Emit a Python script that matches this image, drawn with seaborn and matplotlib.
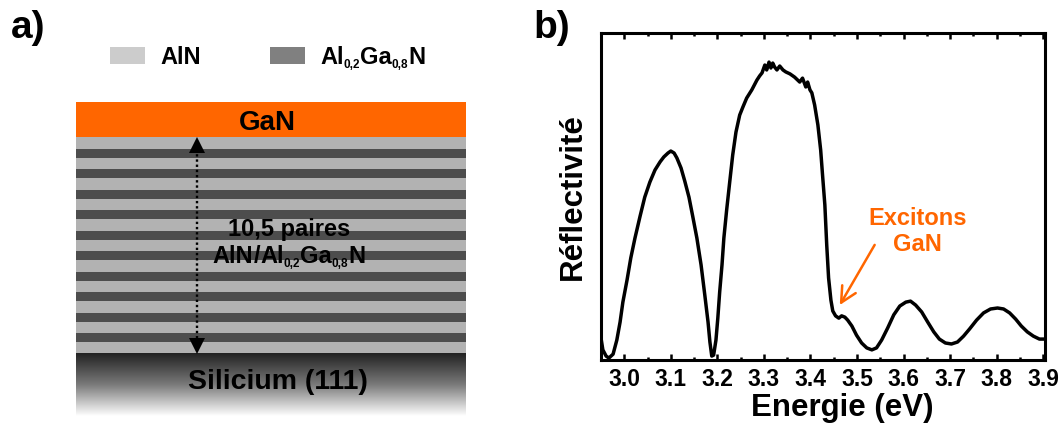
import matplotlib
matplotlib.use("Agg")
import matplotlib.pyplot as plt
from matplotlib.colors import LinearSegmentedColormap
from matplotlib.ticker import MultipleLocator
import numpy as np
import pandas as pd
import seaborn as sns

# ---------------- data ----------------
# Reflectivity spectrum (arbitrary units) versus photon energy (eV)
energy = [
    2.950, 2.954, 2.961, 2.967, 2.976, 2.984, 2.991, 2.997, 3.006, 3.014,
    3.023, 3.034, 3.044, 3.055, 3.066, 3.077, 3.085, 3.094, 3.100, 3.107,
    3.113, 3.122, 3.130, 3.139, 3.147, 3.156, 3.165, 3.173, 3.180, 3.184,
    3.188, 3.192, 3.197, 3.201, 3.205, 3.210, 3.214, 3.220, 3.227, 3.233,
    3.240, 3.248, 3.255, 3.263, 3.274, 3.285, 3.291, 3.296, 3.302, 3.306,
    3.311, 3.315, 3.319, 3.323, 3.328, 3.334, 3.341, 3.347, 3.356, 3.366,
    3.377, 3.383, 3.390, 3.394, 3.399, 3.403, 3.409, 3.416, 3.422, 3.426,
    3.431, 3.435, 3.439, 3.444, 3.448, 3.454, 3.461, 3.467, 3.474, 3.480,
    3.489, 3.499, 3.510, 3.521, 3.532, 3.542, 3.553, 3.566, 3.579, 3.592,
    3.605, 3.615, 3.626, 3.639, 3.652, 3.665, 3.677, 3.690, 3.703, 3.716,
    3.729, 3.742, 3.757, 3.772, 3.787, 3.802, 3.815, 3.828, 3.841, 3.853,
    3.866, 3.879, 3.892, 3.903,
]
reflectivity = [
    0.067, 0.031, 0.012, 0.006, 0.018, 0.061, 0.116, 0.177, 0.245, 0.312,
    0.373, 0.440, 0.498, 0.544, 0.581, 0.606, 0.621, 0.633, 0.639, 0.633,
    0.618, 0.587, 0.547, 0.498, 0.440, 0.373, 0.291, 0.199, 0.116, 0.055,
    0.012, 0.015, 0.061, 0.128, 0.208, 0.291, 0.373, 0.459, 0.550, 0.627,
    0.697, 0.749, 0.774, 0.801, 0.826, 0.856, 0.869, 0.878, 0.902, 0.887,
    0.911, 0.893, 0.908, 0.896, 0.887, 0.899, 0.887, 0.881, 0.875, 0.865,
    0.850, 0.862, 0.835, 0.850, 0.826, 0.817, 0.780, 0.719, 0.642, 0.566,
    0.474, 0.352, 0.251, 0.183, 0.150, 0.135, 0.128, 0.135, 0.131, 0.122,
    0.104, 0.076, 0.052, 0.037, 0.031, 0.037, 0.061, 0.098, 0.138, 0.165,
    0.177, 0.180, 0.168, 0.147, 0.116, 0.086, 0.064, 0.052, 0.049, 0.055,
    0.073, 0.095, 0.122, 0.144, 0.156, 0.159, 0.156, 0.144, 0.125, 0.104,
    0.086, 0.073, 0.064, 0.064,
]
xtick_values = [3.0, 3.1, 3.2, 3.3, 3.4, 3.5, 3.6, 3.7, 3.8, 3.9]

# GaN exciton feature: label and arrow endpoints (eV, a.u.)
exciton_label = ["Excitons", "GaN"]
exciton_arrow_tail = (3.538, 0.352)
exciton_arrow_head = (3.463, 0.168)

# Layer stack of the sample (top to bottom)
n_pairs = 10.5
# chemical formulas as (text, is_subscript) runs
barrier_formula = [("AlN", False)]
well_formula = [("Al", False), ("0,2", True), ("Ga", False), ("0,8", True), ("N", False)]

# ---------------- style ----------------
sns.set_style("ticks")
plt.rcParams["font.family"] = ["Liberation Sans", "DejaVu Sans"]
plt.rcParams["font.weight"] = "bold"
for key in ("text.color", "axes.labelcolor", "xtick.color", "ytick.color",
            "axes.edgecolor"):
    plt.rcParams[key] = "black"

ORANGE = "#FF6600"
STACK_LIGHT = "#B2B2B2"
STACK_DARK = "#4D4D4D"
LEGEND_LIGHT = "#CCCCCC"
LEGEND_DARK = "#808080"

fig = plt.figure(figsize=(10.63, 4.28), dpi=100)
renderer = fig.canvas.get_renderer()

# ---------------- panel a: sample schematic (pixel-like canvas) ----------------
ax_a = fig.add_axes([0, 0, 1, 1])
ax_a.set_xlim(0, 1063)
ax_a.set_ylim(428, 0)
ax_a.axis("off")
ax_a.patch.set_alpha(0)


def formula_text(ax, x, y, runs, size, sub_size, ha="left", zorder=4):
    """Draw a formula made of normal and subscript runs, baseline at y."""
    artists = []
    cursor = 0.0
    for txt, is_sub in runs:
        fs = sub_size if is_sub else size
        dy = 0.22 * size if is_sub else 0.0
        t = ax.text(x + cursor, y + dy, txt, ha="left", va="baseline",
                    fontsize=fs, fontweight="bold", zorder=zorder)
        w = t.get_window_extent(renderer).width
        artists.append(t)
        cursor += w
    if ha == "center":
        for t in artists:
            px, py = t.get_position()
            t.set_position((px - cursor / 2, py))
    return artists


x_left, x_right = 76, 466
width = x_right - x_left
x_mid = (x_left + x_right) / 2

cap_top, cap_h = 102, 35
barrier_h, well_h = 11.5, 9.0
si_h = 63

# GaN cap
ax_a.bar(x_mid, cap_h, bottom=cap_top, width=width, color=ORANGE, linewidth=0)
ax_a.text(267, 130, "GaN", ha="center", va="baseline", fontsize=20,
          fontweight="bold")

# superlattice
n_layers = int(round(2 * n_pairs))
y = cap_top + cap_h
stack_top = y
for i in range(n_layers):
    h = barrier_h if i % 2 == 0 else well_h
    c = STACK_LIGHT if i % 2 == 0 else STACK_DARK
    ax_a.bar(x_mid, h, bottom=y, width=width, color=c, linewidth=0)
    y += h
stack_bottom = y

# silicon substrate with a dark-to-white gradient
si_cmap = LinearSegmentedColormap.from_list("si", ["#222222", "#7a7a7a", "#ffffff"])
grad = np.linspace(0, 1, 256).reshape(-1, 1)
ax_a.imshow(grad, cmap=si_cmap, aspect="auto",
            extent=[x_left, x_right, stack_bottom + si_h, stack_bottom],
            interpolation="bilinear", zorder=1)
ax_a.set_xlim(0, 1063)
ax_a.set_ylim(428, 0)
ax_a.text(278, 389, "Silicium (111)", ha="center", va="baseline",
          fontsize=20.5, fontweight="bold")

# double-headed dotted arrow over the superlattice thickness
x_arr = 197
ax_a.plot([x_arr, x_arr], [stack_top + 12, stack_bottom - 12], color="black",
          lw=1.7, ls=(0, (1, 1.2)), zorder=3)
ax_a.plot([x_arr], [stack_top + 7.5], marker="^", ms=12, color="black",
          markeredgewidth=0, zorder=3)
ax_a.plot([x_arr], [stack_bottom - 7.5], marker="v", ms=12, color="black",
          markeredgewidth=0, zorder=3)
ax_a.text(289, 236, f"{n_pairs:g}".replace(".", ",") + " paires", ha="center",
          va="baseline", fontsize=17, fontweight="bold", zorder=4)
formula_text(ax_a, 289, 263, barrier_formula + [("/", False)] + well_formula,
             17, 8.5, ha="center")

# legend swatches
ax_a.bar(127.5, 17, bottom=47, width=35, color=LEGEND_LIGHT, linewidth=0)
formula_text(ax_a, 160, 64, barrier_formula, 17, 8.5)
ax_a.bar(287.5, 17, bottom=47, width=35, color=LEGEND_DARK, linewidth=0)
formula_text(ax_a, 320, 64, well_formula, 17, 8.5)

# panel letters
ax_a.text(11, 38, "a)", ha="left", va="baseline", fontsize=28, fontweight="bold")
ax_a.text(533, 38, "b)", ha="left", va="baseline", fontsize=28, fontweight="bold")

# ---------------- panel b: reflectivity spectrum ----------------
ax_b = fig.add_axes([601 / 1063, (428 - 360) / 428, 444 / 1063, 327 / 428])
df = pd.DataFrame({"energy": energy, "reflectivity": reflectivity})
sns.lineplot(data=df, x="energy", y="reflectivity", sort=False, estimator=None,
             color="black", linewidth=2.5, ax=ax_b)
ax_b.lines[0].set_solid_joinstyle("round")

ax_b.set_xlim(2.95, 3.904)
ax_b.set_ylim(0, 1)
ax_b.set_xticks(xtick_values)
ax_b.set_xticklabels([f"{v:.1f}" for v in xtick_values])
ax_b.xaxis.set_minor_locator(MultipleLocator(0.05))
ax_b.set_yticks([])
ax_b.tick_params(axis="x", which="both", direction="in", top=True, bottom=True,
                 width=1.8, labelsize=16.5, pad=6, colors="black")
ax_b.tick_params(axis="x", which="major", length=4.5)
ax_b.tick_params(axis="x", which="minor", length=2.5)
for lab in ax_b.get_xticklabels():
    lab.set_fontweight("bold")
for sp in ax_b.spines.values():
    sp.set_visible(True)
    sp.set_linewidth(2.2)
    sp.set_color("black")

ax_b.set_xlabel("Energie (eV)", fontsize=22.5, fontweight="bold")
ax_b.xaxis.set_label_coords(0.543, -0.10)
ax_b.set_ylabel("Réflectivité", fontsize=22.5, fontweight="bold")
ax_b.yaxis.set_label_coords(-0.03, 0.5)

# exciton annotation
ax_b.annotate("", xy=exciton_arrow_head, xytext=exciton_arrow_tail,
              arrowprops=dict(arrowstyle="->,head_length=0.7,head_width=0.35",
                              color=ORANGE, lw=1.8, mutation_scale=16,
                              shrinkA=0, shrinkB=0))
ax_b.text(3.63, 0.413, exciton_label[0], ha="center", va="baseline",
          fontsize=17, fontweight="bold", color=ORANGE)
ax_b.text(3.63, 0.333, exciton_label[1], ha="center", va="baseline",
          fontsize=17, fontweight="bold", color=ORANGE)

fig.savefig("out.png", dpi=100)
